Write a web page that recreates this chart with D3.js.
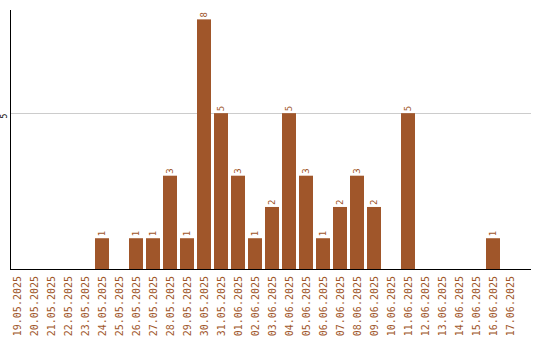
<!DOCTYPE html>
<html><head><meta charset="utf-8">
<script src="https://cdn.jsdelivr.net/npm/d3@7"></script>
<style>body{margin:0;background:#fff}svg{display:block}</style>
</head><body>
<script>
const dates = ["19.05.2025","20.05.2025","21.05.2025","22.05.2025","23.05.2025","24.05.2025","25.05.2025","26.05.2025","27.05.2025","28.05.2025","29.05.2025","30.05.2025","31.05.2025","01.06.2025","02.06.2025","03.06.2025","04.06.2025","05.06.2025","06.06.2025","07.06.2025","08.06.2025","09.06.2025","10.06.2025","11.06.2025","12.06.2025","13.06.2025","14.06.2025","15.06.2025","16.06.2025","17.06.2025"];
const counts = [0,0,0,0,0,1,0,1,1,3,1,8,5,3,1,2,5,3,1,2,3,2,0,5,0,0,0,0,1,0];
const yTicks = [5];

const W = 540, H = 340;
const color = "#A0562A";
const svg = d3.select("body").append("svg").attr("width", W).attr("height", H);

const x = d3.scaleBand().domain(dates).range([10, 517]).paddingInner(3/17).paddingOuter(0);
const y = d3.scaleLinear().domain([0, 8.3]).range([269.5, 10]);

// gridline
svg.append("g").selectAll("line").data(yTicks).join("line")
  .attr("x1", 11).attr("x2", 531)
  .attr("y1", d => Math.round(y(d)) + 0.5).attr("y2", d => Math.round(y(d)) + 0.5)
  .attr("stroke", "#cccccc").attr("stroke-width", 1);

// y tick labels
svg.append("g").selectAll("text").data(yTicks).join("text")
  .attr("transform", d => `translate(7,${y(d) + 3}) rotate(-90)`)
  .attr("text-anchor", "middle")
  .attr("font-family", "DejaVu Sans Mono, monospace").attr("font-size", 8)
  .attr("fill", "#000").text(d => d);

// bars
svg.append("g").selectAll("rect").data(dates).join("rect")
  .attr("x", d => x(d)).attr("width", x.bandwidth())
  .attr("y", (d, i) => y(counts[i])).attr("height", (d, i) => y(0) - y(counts[i]))
  .attr("fill", color);

// value labels
svg.append("g").selectAll("text").data(dates.filter((d, i) => counts[i] > 0)).join("text")
  .attr("transform", d => `translate(${x(d) + x.bandwidth()/2 + 3},${y(counts[dates.indexOf(d)]) - 2}) rotate(-90)`)
  .attr("text-anchor", "start")
  .attr("font-family", "DejaVu Sans Mono, monospace").attr("font-size", 9)
  .attr("fill", color).text(d => counts[dates.indexOf(d)]);

// axes lines
svg.append("line").attr("x1", 10.5).attr("x2", 10.5).attr("y1", 10).attr("y2", 270)
  .attr("stroke", "#000").attr("stroke-width", 1);
svg.append("line").attr("x1", 10).attr("x2", 531).attr("y1", 269.5).attr("y2", 269.5)
  .attr("stroke", "#000").attr("stroke-width", 1);

// x labels
svg.append("g").selectAll("text").data(dates).join("text")
  .attr("transform", d => `translate(${x(d) + x.bandwidth()/2 + 3.5},276) rotate(-90)`)
  .attr("text-anchor", "end")
  .attr("font-family", "DejaVu Sans Mono, monospace").attr("font-size", 10)
  .attr("fill", color).text(d => d);
</script>
</body></html>
